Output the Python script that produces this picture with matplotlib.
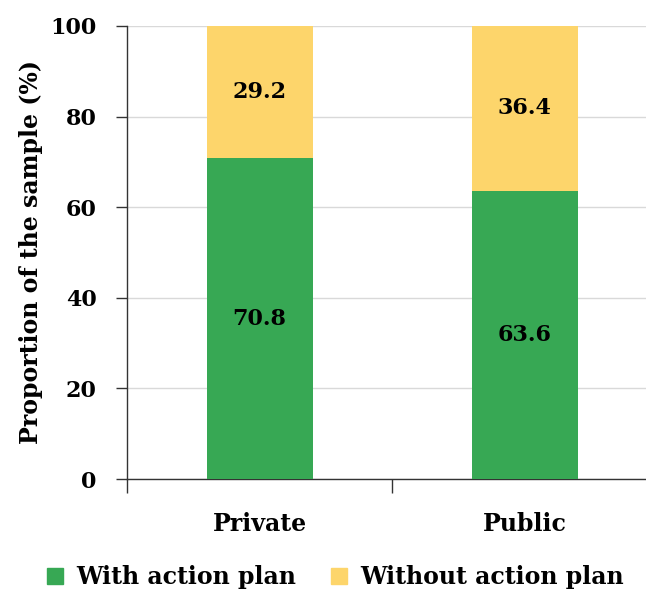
import matplotlib.pyplot as plt
from matplotlib.patches import Patch

plt.rcParams['font.family'] = ['DejaVu Serif']
plt.rcParams['font.weight'] = 'bold'

categories = ["Private", "Public"]
with_plan = [70.8, 63.6]
without_plan = [29.2, 36.4]
series_names = ["With action plan", "Without action plan"]
colors = ["#37a854", "#fdd56b"]

fig = plt.figure(figsize=(6.46, 5.92), dpi=100)
ax = fig.add_axes([127 / 646, 113 / 592, 530 / 646, 453 / 592])

x = range(len(categories))
ax.bar(x, with_plan, width=0.4, color=colors[0], zorder=3)
ax.bar(x, without_plan, width=0.4, bottom=with_plan, color=colors[1], zorder=3)

for i in x:
    ax.text(i, with_plan[i] / 2, f"{with_plan[i]:.1f}", ha="center", va="center",
            fontsize=16, fontweight="bold", zorder=4)
    ax.text(i, with_plan[i] + without_plan[i] / 2, f"{without_plan[i]:.1f}",
            ha="center", va="center", fontsize=16, fontweight="bold", zorder=4)

ax.set_xlim(-0.5, 1.5)
ax.set_ylim(0, 100)
ax.set_yticks([0, 20, 40, 60, 80, 100])
ax.set_xticks(list(x))
ax.set_xticklabels(categories)
ax.set_xticks([-0.5, 0.5, 1.5], minor=True)
ax.tick_params(axis="x", which="major", length=0, pad=24, labelsize=17)
ax.tick_params(axis="x", which="minor", length=10, width=1, color="#333333")
ax.tick_params(axis="y", length=8, width=1, color="#333333", labelsize=16, pad=14)

ax.yaxis.grid(True, color="#d9d9d9", linewidth=1, zorder=0)
for s in ["top", "right"]:
    ax.spines[s].set_visible(False)
for s in ["left", "bottom"]:
    ax.spines[s].set_color("#333333")
    ax.spines[s].set_linewidth(1)

ax.set_ylabel("Proportion of the sample (%)", fontsize=17, fontweight="bold", labelpad=5)

handles = [Patch(color=c, label=n) for c, n in zip(colors, series_names)]
fig.legend(handles=handles, loc="center", bbox_to_anchor=(0.519, 0.025), ncol=2,
           frameon=False, fontsize=17, handlelength=0.7, handleheight=0.7,
           handletextpad=0.55, columnspacing=1.45)

fig.savefig("out.png", dpi=100)
